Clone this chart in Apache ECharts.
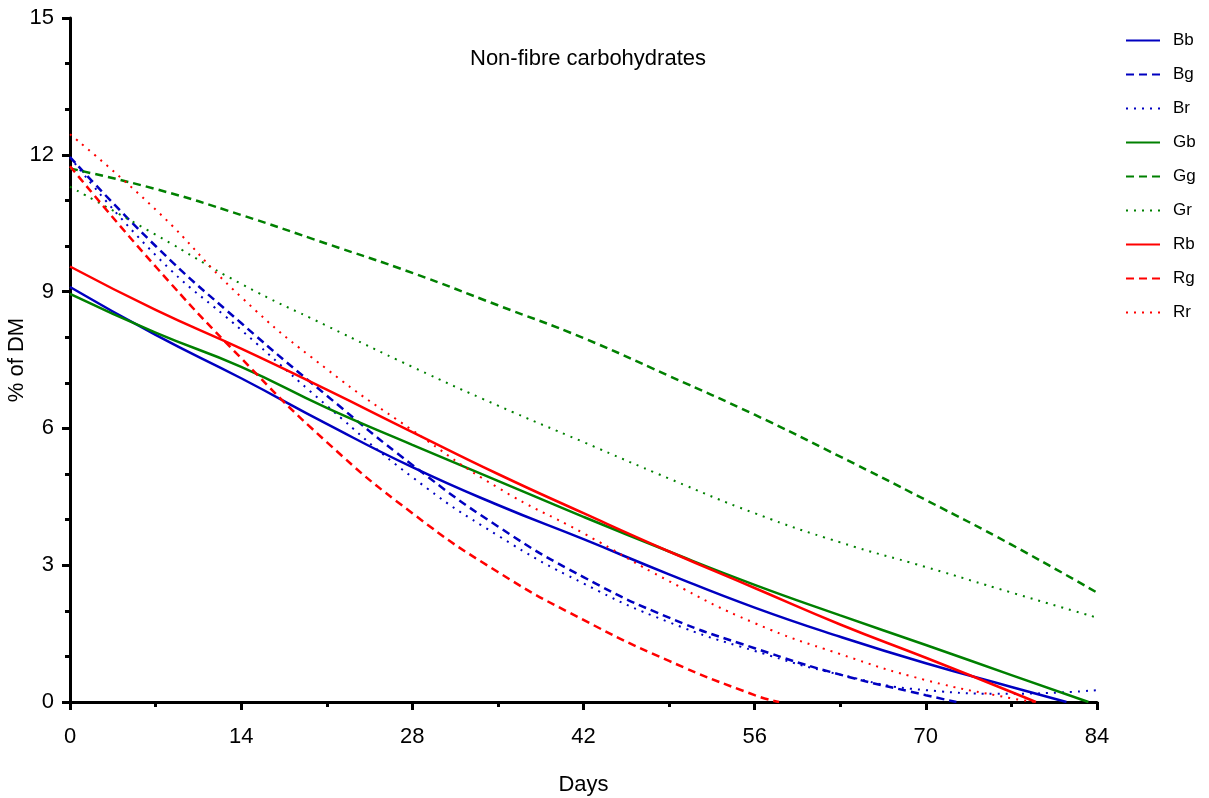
<!DOCTYPE html>
<html>
<head>
<meta charset="utf-8">
<script src="https://cdn.jsdelivr.net/npm/echarts@6/dist/echarts.min.js"></script>
<style>
  html, body { margin: 0; padding: 0; background: #fff; }
  #main { width: 1209px; height: 798px; }
</style>
</head>
<body>
<div id="main"></div>
<script>
// values, [day, % of DM]
var bb = [[0,9.1],[7,8.05],[14,7.1],[21,6.1],[28,5.15],[35,4.32],[42,3.57],[49,2.8],[56,2.07],[63,1.43],[70,0.85],[77,0.33],[81.5,0]];
var bg = [[0,11.95],[7,10.0],[14,8.31],[21,6.72],[28,5.2],[35,3.85],[42,2.74],[49,1.85],[56,1.18],[63,0.6],[70,0.15],[72.5,0]];
var br = [[0,11.95],[7,9.8],[14,8.16],[21,6.5],[28,4.93],[35,3.65],[42,2.6],[49,1.75],[56,1.12],[63,0.6],[70,0.26],[77,0.18],[84,0.26]];
var gb = [[0,8.95],[7,8.1],[14,7.35],[21,6.45],[28,5.64],[35,4.85],[42,4.06],[49,3.3],[56,2.57],[63,1.9],[70,1.25],[77,0.59],[83.3,0]];
var gg = [[0,11.7],[7,11.25],[14,10.68],[21,10.05],[28,9.41],[35,8.7],[42,7.98],[49,7.15],[56,6.3],[63,5.38],[70,4.43],[77,3.45],[84,2.4]];
var gr = [[0,11.3],[7,10.25],[14,9.17],[21,8.25],[28,7.35],[35,6.5],[42,5.7],[49,4.9],[56,4.14],[63,3.5],[70,2.96],[77,2.4],[84,1.85]];
var rb = [[0,9.55],[7,8.6],[14,7.75],[21,6.85],[28,5.92],[35,5.0],[42,4.14],[49,3.3],[56,2.5],[63,1.7],[70,0.97],[77,0.22],[79,0]];
var rg = [[0,11.75],[7,9.55],[14,7.54],[21,5.7],[28,4.14],[35,2.85],[42,1.8],[49,0.9],[56,0.15],[58,0]];
var rr = [[0,12.45],[7,10.8],[14,8.88],[21,7.3],[28,5.96],[35,4.7],[42,3.7],[49,2.65],[56,1.73],[63,1.05],[70,0.48],[77,0.08],[79,0]];

var names = ['Bb', 'Bg', 'Br', 'Gb', 'Gg', 'Gr', 'Rb', 'Rg', 'Rr'];
var datas = [bb, bg, br, gb, gg, gr, rb, rg, rr];

var BLUE = '#0000C0', GREEN = '#008000', RED = '#FF0000';
var colors = [BLUE, BLUE, BLUE, GREEN, GREEN, GREEN, RED, RED, RED];
var solid = 'solid', dash = [8, 5], dot = [2, 6];
var types = [solid, dash, dot, solid, dash, dot, solid, dash, dot];

var series = [];
for (var i = 0; i < names.length; i++) {
    series.push({
        name: names[i],
        type: 'line',
        data: datas[i],
        smooth: true,
        symbol: 'none',
        lineStyle: {
            color: colors[i],
            width: types[i] === dot ? 2 : 2.5,
            type: types[i]
        },
        itemStyle: { color: colors[i] }
    });
}

var myChart = echarts.init(document.getElementById('main'));
var option = {
    backgroundColor: '#fff',
    animation: false,
    title: {
        text: 'Non-fibre carbohydrates',
        left: 583,
        top: 43,
        textAlign: 'center',
        textStyle: {
            fontFamily: 'Liberation Sans',
            fontWeight: 'normal',
            fontSize: 22,
            color: '#000'
        }
    },
    legend: {
        orient: 'vertical',
        left: 1120,
        top: 27,
        itemWidth: 34,
        itemHeight: 14,
        itemGap: 17,
        itemStyle: { opacity: 0 },
        textStyle: {
            fontFamily: 'Liberation Sans',
            fontSize: 17,
            color: '#000',
            padding: [0, 0, 0, 8]
        },
        data: names
    },
    grid: {
        left: 70,
        right: 112,
        top: 18,
        bottom: 96,
        outerBoundsMode: 'none'
    },
    xAxis: {
        type: 'value',
        min: 0,
        max: 84,
        interval: 14,
        name: 'Days',
        nameLocation: 'middle',
        nameGap: 72,
        nameMoveOverlap: false,
        nameTextStyle: { fontFamily: 'Liberation Sans', fontSize: 22, color: '#000' },
        axisLine: { lineStyle: { color: '#000', width: 3 } },
        axisTick: { length: 8, lineStyle: { color: '#000', width: 3 } },
        minorTick: { show: true, splitNumber: 2, length: 5, lineStyle: { color: '#000', width: 3 } },
        axisLabel: { fontFamily: 'Liberation Sans', fontSize: 22, color: '#000', margin: 24 },
        splitLine: { show: false }
    },
    yAxis: {
        type: 'value',
        min: 0,
        max: 15,
        interval: 3,
        name: '% of DM',
        nameLocation: 'middle',
        nameGap: 42,
        nameMoveOverlap: false,
        nameTextStyle: { fontFamily: 'Liberation Sans', fontSize: 22, color: '#000' },
        axisLine: { lineStyle: { color: '#000', width: 3 } },
        axisTick: { length: 8, lineStyle: { color: '#000', width: 3 } },
        minorTick: { show: true, splitNumber: 3, length: 5, lineStyle: { color: '#000', width: 3 } },
        axisLabel: { fontFamily: 'Liberation Sans', fontSize: 22, color: '#000', margin: 16 },
        splitLine: { show: false }
    },
    series: series
};
myChart.setOption(option);
</script>
</body>
</html>
